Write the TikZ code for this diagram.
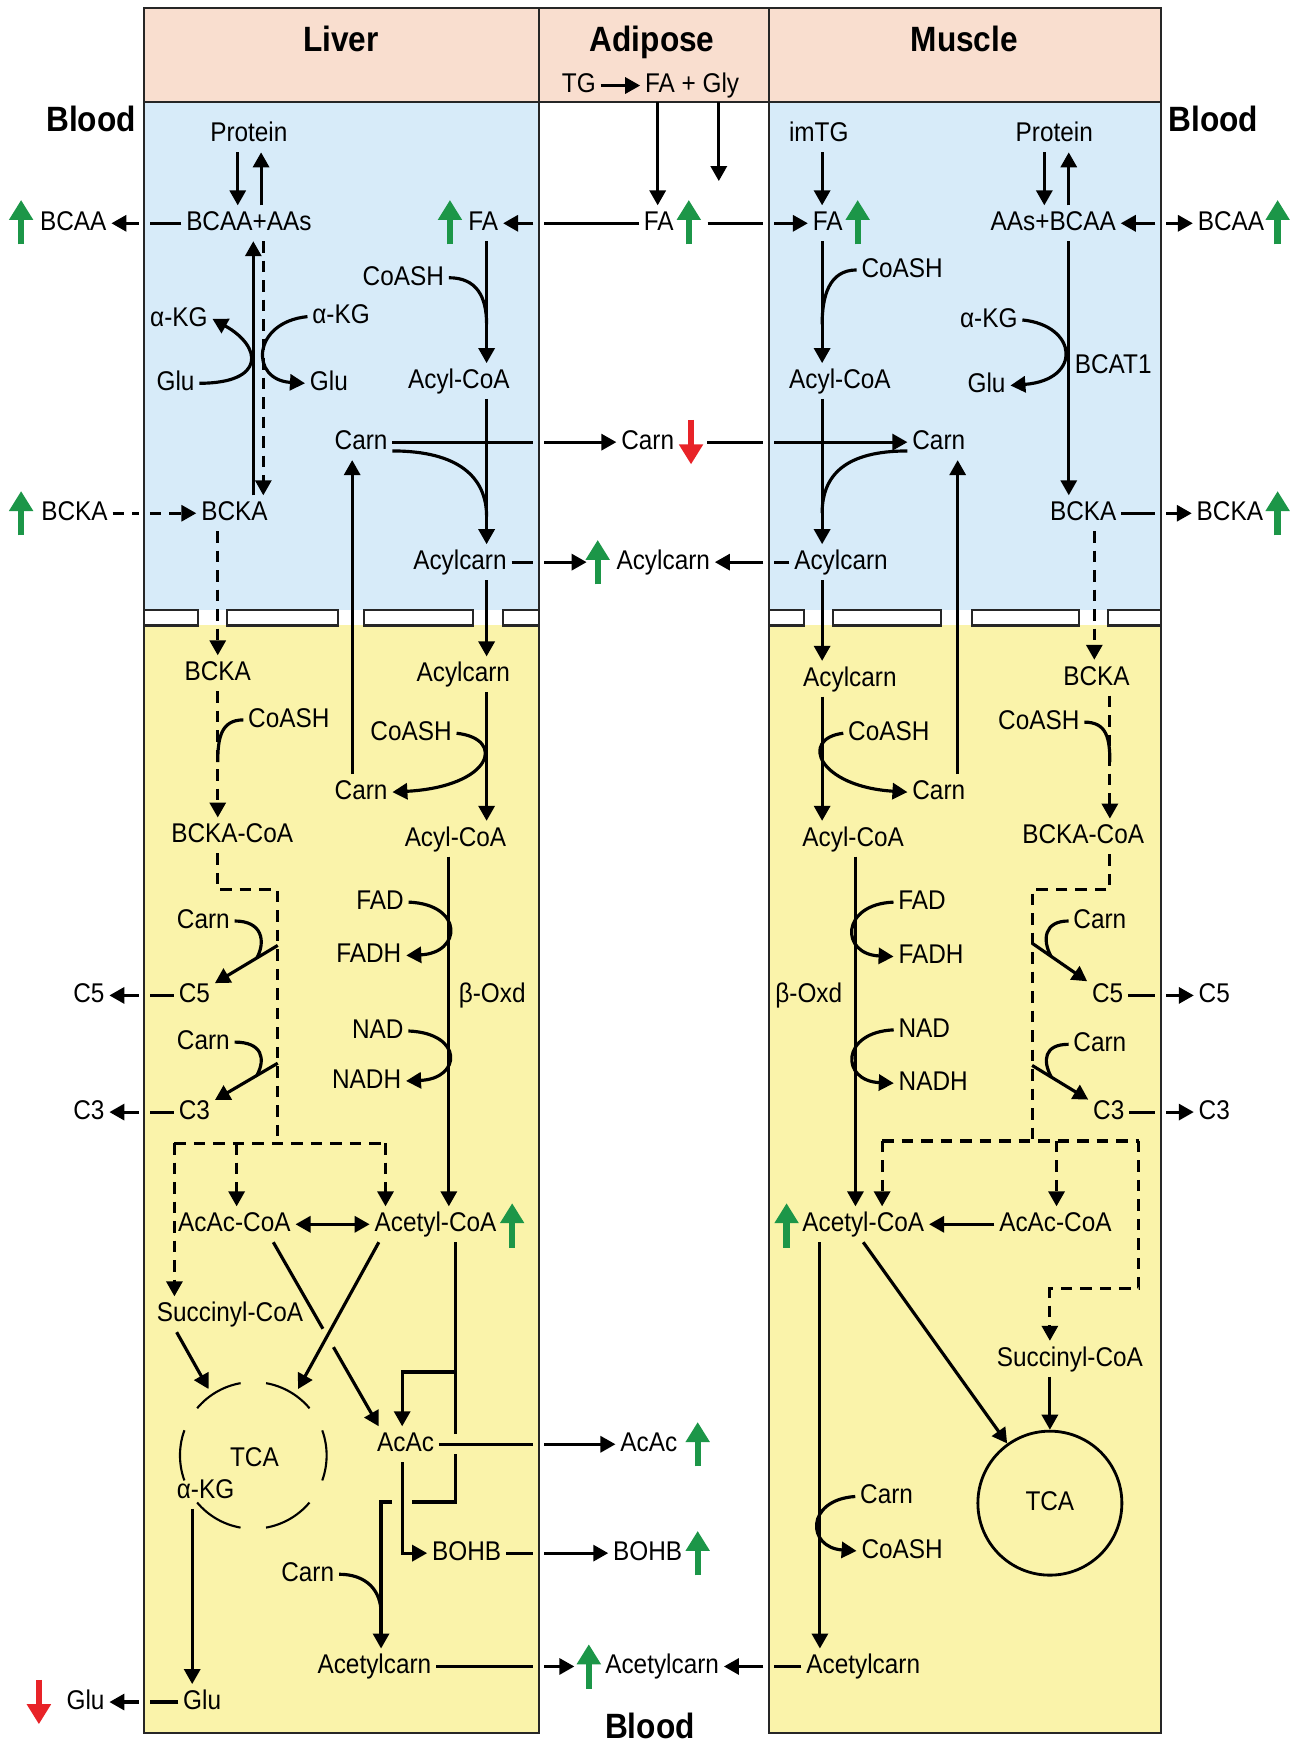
\documentclass[tikz,border=0pt]{standalone}
\usepackage{fontspec}
\setmainfont{Liberation Sans}[FakeStretch=0.9]
\usetikzlibrary{arrows.meta,calc}

\definecolor{hdrpeach}{RGB}{249,222,207}
\definecolor{cytoblue}{RGB}{215,235,249}
\definecolor{mitoyel}{RGB}{250,243,170}
\definecolor{upgreen}{RGB}{28,150,72}
\definecolor{dnred}{RGB}{232,35,40}

\begin{document}
\begin{tikzpicture}[
    x=0.1111mm, y=-0.1111mm,
    every node/.style={font=\fontsize{7.7}{9}\selectfont, inner sep=1.2pt, text height=5.8pt, text depth=1.6pt},
    ttl/.style={font=\fontsize{10}{12}\selectfont\bfseries, text height=7.2pt, text depth=0pt},
    ln/.style={line width=0.9pt},
    arr/.style={ln, -{Triangle[length=1.5mm,width=1.6mm]}},
    darr/.style={ln, {Triangle[length=1.5mm,width=1.6mm]}-{Triangle[length=1.5mm,width=1.6mm]}},
    dsh/.style={ln, dash pattern=on 1.15mm off 0.8mm},
    tobd/.style={shorten >=0.55mm},
    frbd/.style={shorten <=0.55mm},
    tox/.style={shorten >=1mm},
    frx/.style={shorten <=1mm},
    gup/.style={line width=1.8pt, upgreen, -{Triangle[length=2mm,width=2.3mm]}},
    rdn/.style={line width=1.8pt, dnred, -{Triangle[length=2mm,width=2.3mm]}},
    wall/.style={draw=black!85, line width=0.6pt}
]
\fill[white] (0,0) rectangle (1170,1568);
\useasboundingbox (0,0) rectangle (1170,1568);

% compartments
\fill[hdrpeach] (130,7) rectangle (1045,92);
\fill[cytoblue] (130,92) rectangle (485,549);
\fill[cytoblue] (692,92) rectangle (1045,549);
\fill[mitoyel] (130,563) rectangle (485,1560);
\fill[mitoyel] (692,563) rectangle (1045,1560);
\foreach \a/\b in {130/178,204/304,328/426,453/485,692/724,750/847,875/971,997/1045}
  \draw[wall, fill=white] (\a,549) rectangle (\b,563);
\draw[wall] (130,7) -- (1045,7);
\draw[wall] (130,92) -- (1045,92);
\draw[wall] (130,7) rectangle (485,1560);
\draw[wall] (692,7) rectangle (1045,1560);

\coordinate (LB) at (130,0);
\coordinate (AL) at (485,0);
\coordinate (AR) at (692,0);
\coordinate (RB) at (1045,0);

% headers
\node[ttl] (liver) at (307,35) {Liver};
\node[ttl] (adipose) at (587,35) {Adipose};
\node[ttl] (muscle) at (868,35) {Muscle};
\node (tg) at (521,77) {TG};
\node (fagly) at (623,77) {FA + Gly};
\node[ttl] (bloodL) at (82,107) {Blood};
\node[ttl] (bloodR) at (1092,107) {Blood};
\node[ttl] (bloodB) at (585,1553) {Blood};

% liver cytosol
\node (protL) at (224,121) {Protein};
\node (bcaaL) at (224,201) {BCAA+AAs};
\node (bBCAAl) at (66,201) {BCAA};
\node (faL) at (435,201) {FA};
\node (faA) at (593,201) {FA};
\node (faM) at (745,201) {FA};
\node (coashL1) at (363,250) {CoASH};
\node (akgL1) at (161,287) {α-KG};
\node (gluL1) at (158,345) {Glu};
\node (akgL2) at (307,285) {α-KG};
\node (gluL2) at (296,345) {Glu};
\node (acoaL) at (413,343) {Acyl-CoA};
\node (carnL) at (325,398) {Carn};
\node (carnA) at (583,398) {Carn};
\node (bckaL) at (211,462) {BCKA};
\node (bBCKAl) at (67,462) {BCKA};
\node (acarnL) at (414,506) {Acylcarn};
\node (acarnA) at (597,506) {Acylcarn};

% muscle cytosol
\node (imtg) at (737,121) {imTG};
\node (protM) at (949,121) {Protein};
\node (bcaaM) at (948,201) {AAs+BCAA};
\node (bBCAAm) at (1108,201) {BCAA};
\node (coashM1) at (812,243) {CoASH};
\node (akgM) at (890,288) {α-KG};
\node (bcat) at (1002,330) {BCAT1};
\node (gluM) at (888,347) {Glu};
\node (acoaM) at (756,343) {Acyl-CoA};
\node (carnM) at (845,398) {Carn};
\node (bckaM) at (975,462) {BCKA};
\node (bBCKAm) at (1107,462) {BCKA};
\node (acarnM) at (757,506) {Acylcarn};

% liver mitochondria
\node (bckaLy) at (196,606) {BCKA};
\node (coashL2) at (260,648) {CoASH};
\node (bckacoaL) at (209,752) {BCKA-CoA};
\node (acarnLy) at (417,607) {Acylcarn};
\node (coashL3) at (370,660) {CoASH};
\node (carnLy) at (325,713) {Carn};
\node (acoaLy) at (410,755) {Acyl-CoA};
\node (fadL) at (342,812) {FAD};
\node (fadhL) at (332,860) {FADH};
\node (nadL) at (340,928) {NAD};
\node (nadhL) at (330,973) {NADH};
\node (boxL) at (443,896) {β-Oxd};
\node (carn5L) at (183,829) {Carn};
\node (c5L) at (175,896) {C5};
\node (bC5l) at (80,896) {C5};
\node (carn3L) at (183,938) {Carn};
\node (c3L) at (175,1001) {C3};
\node (bC3l) at (80,1001) {C3};
\node (acaccoaL) at (211,1102) {AcAc-CoA};
\node (actcoaL) at (392,1102) {Acetyl-CoA};
\node (succL) at (207,1183) {Succinyl-CoA};
\coordinate (tcaL) at (228,1310);
\node (tcaLt) at (229,1313) {TCA};
\node (akgL3) at (185,1342) {α-KG};
\node (acacL) at (365,1300) {AcAc};
\node (bAcAc) at (584,1300) {AcAc};
\node (bohb) at (420,1398) {BOHB};
\node (bBOHB) at (583,1398) {BOHB};
\node (carn4L) at (277,1417) {Carn};
\node (actcarnL) at (337,1500) {Acetylcarn};
\node (bActcarn) at (596,1500) {Acetylcarn};
\node (gluL3) at (182,1532) {Glu};
\node (bGlu) at (77,1532) {Glu};

% muscle mitochondria
\node (acarnMy) at (765,611) {Acylcarn};
\node (coashM2) at (800,660) {CoASH};
\node (carnMy) at (845,713) {Carn};
\node (acoaMy) at (768,755) {Acyl-CoA};
\node (fadM) at (830,812) {FAD};
\node (fadhM) at (838,861) {FADH};
\node (nadM) at (832,927) {NAD};
\node (nadhM) at (840,975) {NADH};
\node (boxM) at (728,896) {β-Oxd};
\node (bckaMy) at (987,610) {BCKA};
\node (coashM3) at (935,650) {CoASH};
\node (bckacoaM) at (975,753) {BCKA-CoA};
\node (carn5M) at (990,829) {Carn};
\node (c5M) at (997,896) {C5};
\node (bC5m) at (1093,896) {C5};
\node (carn3M) at (990,940) {Carn};
\node (c3M) at (998,1001) {C3};
\node (bC3m) at (1093,1001) {C3};
\node (actcoaM) at (777,1102) {Acetyl-CoA};
\node (acaccoaM) at (950,1102) {AcAc-CoA};
\node (succM) at (963,1223) {Succinyl-CoA};
\node[draw, circle, line width=0.8pt, minimum size=14.4mm, inner sep=0pt] (tcaM) at (945,1353) {TCA};
\node (carn4M) at (798,1347) {Carn};
\node (coashM4) at (812,1396) {CoASH};
\node (actcarnM) at (777,1500) {Acetylcarn};

% lanes
\coordinate (lPd) at (214,0); \coordinate (lPu) at (235,0);
\coordinate (lS) at (228,0);  \coordinate (lD) at (237,0);
\coordinate (lB) at (196,0);  \coordinate (lF) at (438,0);
\coordinate (lC) at (317,0);  \coordinate (lBo) at (404,0);
\coordinate (lAc) at (410,0); \coordinate (lAa) at (362,0);
\coordinate (lAm) at (343,0); \coordinate (lK) at (173,0);
\coordinate (d1) at (157,0);  \coordinate (d2) at (213,0); \coordinate (d3) at (347,0);
\coordinate (mF) at (740,0);  \coordinate (mC) at (862,0);
\coordinate (mPd) at (940,0); \coordinate (mPu) at (962,0);
\coordinate (mD) at (985,0);  \coordinate (mD2) at (999,0);
\coordinate (mBo) at (770,0); \coordinate (mAc) at (738,0);
\coordinate (e1) at (794,0);  \coordinate (e2) at (951,0); \coordinate (e3) at (1025,0);
\coordinate (hA) at (592,92); \coordinate (hG) at (647,92); \coordinate (glyEnd) at (647,163);
\coordinate (mgF1) at (438,292); \coordinate (mgF2) at (438,465);
\coordinate (mgM1) at (740,292); \coordinate (mgM2) at (740,462);
\coordinate (mgB1) at (196,686); \coordinate (mgB2) at (999,686);
\coordinate (mgAm) at (343,1452);

% liver cytosol links
\draw[arr] (protL.south -| lPd) -- (bcaaL.north -| lPd);
\draw[arr] (bcaaL.north -| lPu) -- (protL.south -| lPu);
\draw[ln, tobd] (bcaaL) -- (bcaaL -| LB);
\draw[arr, frbd] (bcaaL -| LB) -- (bBCAAl);
\draw[arr] (bckaL.north -| lS) -- (bcaaL.south -| lS);
\draw[dsh, arr] (bcaaL.south -| lD) -- (bckaL.north -| lD);
\draw[arr] (gluL1.east) .. controls +(60,0) and +(45,25) .. (akgL1.east);
\draw[arr] (akgL2.west) .. controls +(-50,5) and +(-50,-3) .. (gluL2.west);
\draw[dsh, tobd] (bBCKAl) -- (bBCKAl -| LB);
\draw[dsh, arr, frbd] (bBCKAl -| LB) -- (bckaL);
\draw[dsh, arr] (bckaL.south -| lB) -- (bckaLy.north -| lB);
\draw[ln, tobd] (faA) -- (faA -| AL);
\draw[arr, frbd] (faA -| AL) -- (faL);
\draw[arr] (faL.south -| lF) -- (acoaL.north -| lF);
\draw[ln] (coashL1.east) .. controls +(25,0) and +(0,-25) .. (mgF1);
\draw[arr] (acoaL.south -| lF) -- (acarnL.north -| lF);
\draw[ln, tobd] (carnL) -- (carnL -| AL);
\draw[arr, frbd] (carnL -| AL) -- (carnA);
\draw[ln] ([yshift=-2.5pt]carnL.east) .. controls +(60,0) and +(0,-35) .. (mgF2);
\draw[arr] (carnLy.north -| lC) -- (carnL.south -| lC);
\draw[ln, tobd] (acarnL) -- (acarnL -| AL);
\draw[arr, frbd, shorten >=2.5mm] (acarnL -| AL) -- (acarnA);

% adipose
\draw[arr] (tg) -- (fagly);
\draw[arr] (hA) -- (faA.north -| hA);
\draw[arr] (hG) -- (glyEnd);
\draw[ln, tobd, shorten <=2.9mm] (faA) -- (faA -| AR);
\draw[arr, frbd] (faA -| AR) -- (faM);
\draw[ln, tobd, shorten <=2.8mm] (carnA) -- (carnA -| AR);
\draw[arr, frbd] (carnA -| AR) -- (carnM);
\draw[ln, tobd] (acarnM) -- (acarnM -| AR);
\draw[arr, frbd] (acarnM -| AR) -- (acarnA);

% muscle cytosol links
\draw[arr] (imtg.south -| mF) -- (faM.north -| mF);
\draw[arr] (faM.south -| mF) -- (acoaM.north -| mF);
\draw[ln] (coashM1.west) .. controls +(-25,0) and +(0,-25) .. (mgM1);
\draw[arr] (acoaM.south -| mF) -- (acarnM.north -| mF);
\draw[ln] ([yshift=-2.5pt]carnM.west) .. controls +(-55,0) and +(0,-35) .. (mgM2);
\draw[arr] (carnMy.north -| mC) -- (carnM.south -| mC);
\draw[arr] (protM.south -| mPd) -- (bcaaM.north -| mPd);
\draw[arr] (bcaaM.north -| mPu) -- (protM.south -| mPu);
\draw[arr, frbd] (bcaaM -| RB) -- (bcaaM);
\draw[arr, frbd] (bcaaM -| RB) -- (bBCAAm);
\draw[arr] (bcaaM.south -| mPu) -- (bckaM.north -| mPu);
\draw[arr] (akgM.east) .. controls +(50,5) and +(65,-5) .. (gluM.east);
\draw[ln, tobd] (bckaM) -- (bckaM -| RB);
\draw[arr, frbd] (bckaM -| RB) -- (bBCKAm);
\draw[dsh, arr] (bckaM.south -| mD) -- (bckaMy.north -| mD);

% liver mitochondria links
\draw[arr] (acarnL.south -| lF) -- (acarnLy.north -| lF);
\draw[arr] (acarnLy.south -| lF) -- (acoaLy.north -| lF);
\draw[arr] (coashL3.east) .. controls +(45,5) and +(90,-5) .. (carnLy.east);
\draw[dsh, arr] (bckaLy.south -| lB) -- (bckacoaL.north -| lB);
\draw[ln] (coashL2.west) .. controls +(-20,0) and +(0,-22) .. (mgB1);
\coordinate (jL1) at (250,801);
\coordinate (jL2) at (250,1029);
\draw[dsh] (bckacoaL.south -| lB) |- (jL1) -- (jL2);
\draw[dsh] (jL2 -| d1) -- (jL2 -| d3);
\draw[dsh, arr] (jL2 -| d1) -- (succL.north -| d1);
\draw[dsh, arr] (jL2 -| d2) -- (acaccoaL.north -| d2);
\draw[dsh, arr] (jL2 -| d3) -- (actcoaL.north -| d3);
\coordinate (kL5) at (250,851);
\coordinate (kL3) at (250,957);
\draw[arr] (kL5) -- (c5L);
\draw[ln] (carn5L.east) .. controls +(25,0) and +(8,-15) .. ($(kL5)!0.25!(c5L)$);
\draw[arr] (kL3) -- (c3L);
\draw[ln] (carn3L.east) .. controls +(25,0) and +(8,-15) .. ($(kL3)!0.25!(c3L)$);
\draw[ln, tobd] (c5L) -- (c5L -| LB);
\draw[arr, frbd] (c5L -| LB) -- (bC5l);
\draw[ln, tobd] (c3L) -- (c3L -| LB);
\draw[arr, frbd] (c3L -| LB) -- (bC3l);
\draw[arr] (acoaLy.south -| lBo) -- (actcoaL.north -| lBo);
\draw[arr] (fadL.east) .. controls +(50,2) and +(50,-2) .. (fadhL.east);
\draw[arr] (nadL.east) .. controls +(50,2) and +(50,-2) .. (nadhL.east);
\draw[darr] (acaccoaL) -- (actcoaL);
\draw[line width=0.6pt, dash pattern=on 5.12mm off 2.56mm, dash phase=2.56mm] (tcaL) circle[radius=66];
\path (tcaL) ++(-124:72) coordinate (tin1);
\path (tcaL) ++(-56:72) coordinate (tin2);
\draw[arr] ($(succL.south)+(-48,0)$) -- (tin1);
\draw[arr] ($(actcoaL.south)+(-51,0)$) -- (tin2);
\coordinate (aa1) at ($(acaccoaL.south)+(35,0)$);
\coordinate (aa2) at ($(acacL.north west)+(6,0)$);
\draw[ln] (aa1) -- ($(aa1)!0.47!(aa2)$);
\draw[arr] ($(aa1)!0.57!(aa2)$) -- (aa2);
\coordinate (jA) at (410,1235);
\coordinate (jB) at (410,1352);
\draw[ln] (actcoaL.south -| lAc) -- (jA);
\draw[arr] (jA) -| (acacL.north -| lAa);
\draw[ln, tox] (jA) -- (acacL -| lAc);
\draw[ln, frx, tox] (acacL -| lAc) -- (jB) -- (jB -| lAa);
\draw[arr, frx] (jB -| lAa) -| (actcarnL.north -| lAm);
\draw[ln] (carn4L.east) .. controls +(25,0) and +(0,-20) .. (mgAm);
\draw[arr] (acacL.south -| lAa) |- (bohb.west);
\draw[ln, tobd] (acacL) -- (acacL -| AL);
\draw[arr, frbd] (acacL -| AL) -- (bAcAc);
\draw[ln, tobd] (bohb) -- (bohb -| AL);
\draw[arr, frbd] (bohb -| AL) -- (bBOHB);
\draw[ln, tobd] (actcarnL) -- (actcarnL -| AL);
\draw[arr, frbd, shorten >=2.6mm] (actcarnL -| AL) -- (bActcarn);
\draw[arr] (akgL3.south -| lK) -- (gluL3.north -| lK);
\draw[ln, tobd] (gluL3) -- (gluL3 -| LB);
\draw[arr, frbd] (gluL3 -| LB) -- (bGlu);

% muscle mitochondria links
\draw[arr] (acarnM.south -| mF) -- (acarnMy.north -| mF);
\draw[arr] (acarnMy.south -| mF) -- (acoaMy.north -| mF);
\draw[arr] (coashM2.west) .. controls +(-40,5) and +(-80,-5) .. (carnMy.west);
\draw[dsh, arr] (bckaMy.south -| mD2) -- (bckacoaM.north -| mD2);
\draw[ln] (coashM3.east) .. controls +(20,0) and +(0,-22) .. (mgB2);
\coordinate (jM1) at (929,801);
\coordinate (jM2) at (929,1027);
\coordinate (jM3) at (945,1160);
\draw[dsh] (bckacoaM.south -| mD2) |- (jM1) -- (jM2);
\draw[dsh] (jM2 -| e1) -- (jM2 -| e3);
\draw[dsh, arr] (jM2 -| e1) -- (actcoaM.north -| e1);
\draw[dsh, arr] (jM2 -| e2) -- (acaccoaM.north -| e2);
\draw[dsh, arr] (jM2 -| e3) |- (jM3) -- (succM.north -| jM3);
\coordinate (kM5) at (929,849);
\coordinate (kM3) at (929,959);
\draw[arr] (kM5) -- (c5M);
\draw[ln] (carn5M.west) .. controls +(-22,0) and +(-8,-15) .. ($(kM5)!0.25!(c5M)$);
\draw[arr] (kM3) -- (c3M);
\draw[ln] (carn3M.west) .. controls +(-22,0) and +(-8,-15) .. ($(kM3)!0.25!(c3M)$);
\draw[ln, tobd] (c5M) -- (c5M -| RB);
\draw[arr, frbd] (c5M -| RB) -- (bC5m);
\draw[ln, tobd] (c3M) -- (c3M -| RB);
\draw[arr, frbd] (c3M -| RB) -- (bC3m);
\draw[arr] (acoaMy.south -| mBo) -- (actcoaM.north -| mBo);
\draw[arr] (fadM.west) .. controls +(-48,2) and +(-48,-2) .. (fadhM.west);
\draw[arr] (nadM.west) .. controls +(-48,2) and +(-48,-2) .. (nadhM.west);
\draw[arr] (acaccoaM) -- (actcoaM);
\draw[arr] (actcoaM.south) -- (tcaM);
\draw[arr] (succM.south -| tcaM) -- (tcaM.north);
\draw[arr] (actcoaM.south -| mAc) -- (actcarnM.north -| mAc);
\draw[arr] (carn4M.west) .. controls +(-45,3) and +(-45,-3) .. (coashM4.west);
\draw[ln, tobd] (actcarnM) -- (actcarnM -| AR);
\draw[arr, frbd] (actcarnM -| AR) -- (bActcarn);

% up / down markers
\foreach \x/\y in {19/200, 405/200, 620/200, 772/200, 1150/200, 19/462, 1150/462,
                   538/506, 461/1103, 708/1103, 628/1300, 628/1398, 530/1500}
  \draw[gup] (\x,\y+20) -- (\x,\y-20);
\foreach \x/\y in {622/398, 35/1532}
  \draw[rdn] (\x,\y-20) -- (\x,\y+20);
\end{tikzpicture}
\end{document}
